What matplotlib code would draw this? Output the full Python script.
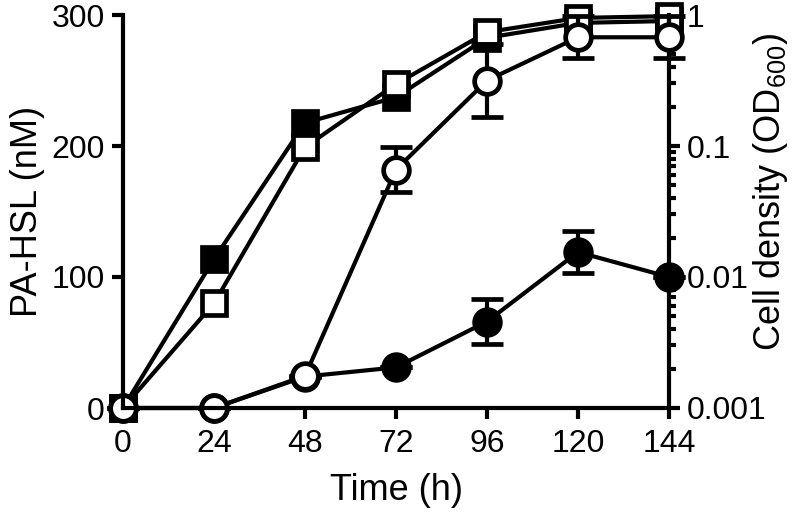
import matplotlib
matplotlib.use('Agg')
import matplotlib.pyplot as plt
from matplotlib.ticker import LogLocator, NullFormatter

plt.rcParams['font.family'] = ['Liberation Sans', 'DejaVu Sans']
plt.rcParams['mathtext.default'] = 'regular'

# time points (h)
time = [0, 24, 48, 72, 96, 120, 144]

# cell density (OD600), right axis
od_filled = [0.001, 0.0137, 0.15, 0.236, 0.67, 0.87, 0.90]
od_open = [0.001, 0.0063, 0.098, 0.297, 0.74, 0.95, 0.98]

# PA-HSL (nM), left axis
hsl_filled = [0, 0, 24, 31, 66, 119, 100]
hsl_filled_err = [0, 0, 0, 0, 17, 16, 0]
hsl_open = [0, 0, 24.5, 182, 250, 283, 283]
hsl_open_err = [0, 0, 0, 17, 28, 16, 16]

x_ticks = [0, 24, 48, 72, 96, 120, 144]
left_ticks = [0, 100, 200, 300]
right_ticks = [0.001, 0.01, 0.1, 1]
right_tick_labels = ['0.001', '0.01', '0.1', '1']

LW = 3.0
MS = 18.5
MEW = 3.4

fig = plt.figure(figsize=(8.02, 5.17), dpi=100)
ax = fig.add_axes([123 / 802, 109 / 517, 546 / 802, 393 / 517])
ax2 = ax.twinx()

# circles above squares
ax.set_zorder(ax2.get_zorder() + 1)
ax.patch.set_visible(False)

ax2.plot(time, od_filled, '-s', color='black', lw=LW, ms=MS - 1, mew=MEW,
         mfc='black', mec='black', clip_on=False)
ax2.plot(time, od_open, '-s', color='black', lw=LW, ms=MS - 1, mew=MEW,
         mfc='white', mec='black', clip_on=False)

ax.errorbar(time, hsl_filled, yerr=hsl_filled_err, fmt='-o', color='black',
            lw=LW, ms=MS, mew=MEW, mfc='black', mec='black',
            elinewidth=LW, capsize=11.5, capthick=LW, clip_on=False)
ax.errorbar(time, hsl_open, yerr=hsl_open_err, fmt='-o', color='black',
            lw=LW, ms=MS, mew=MEW, mfc='white', mec='black',
            elinewidth=LW, capsize=11.5, capthick=LW, clip_on=False)

ax.set_xlim(0, 144)
ax.set_ylim(0, 300)
ax.set_xticks(x_ticks)
ax.set_yticks(left_ticks)
ax2.set_yscale('log')
ax2.set_ylim(0.001, 1)
ax2.set_yticks(right_ticks)
ax2.set_yticklabels(right_tick_labels)
ax2.yaxis.set_minor_locator(LogLocator(base=10, subs=range(2, 10)))
ax2.yaxis.set_minor_formatter(NullFormatter())

for a in (ax, ax2):
    a.spines['top'].set_visible(False)
    for s in a.spines.values():
        s.set_linewidth(LW)
ax.spines['right'].set_visible(False)
ax2.spines['left'].set_visible(False)
ax2.spines['bottom'].set_visible(False)

ax.tick_params(axis='both', which='major', direction='out', length=8,
               width=LW, labelsize=23, pad=5)
ax.tick_params(axis='x', pad=7)
ax2.tick_params(axis='y', which='major', direction='out', length=8,
                width=LW, labelsize=23, pad=5)
ax2.tick_params(axis='y', which='minor', direction='out', length=5, width=3)

ax.set_xlabel('Time (h)', fontsize=26)
ax.set_ylabel('PA-HSL (nM)', fontsize=26)
ax2.set_ylabel('Cell density (OD$_{600}$)', fontsize=26, rotation=90)
ax.xaxis.set_label_coords(0.5, -0.165)
ax.yaxis.set_label_coords(-0.174, 0.5)
ax2.yaxis.set_label_coords(1.185, 0.55)
ax2.yaxis.label.set_va('center')
ax.yaxis.label.set_va('center')

fig.savefig('out.png', dpi=100)
